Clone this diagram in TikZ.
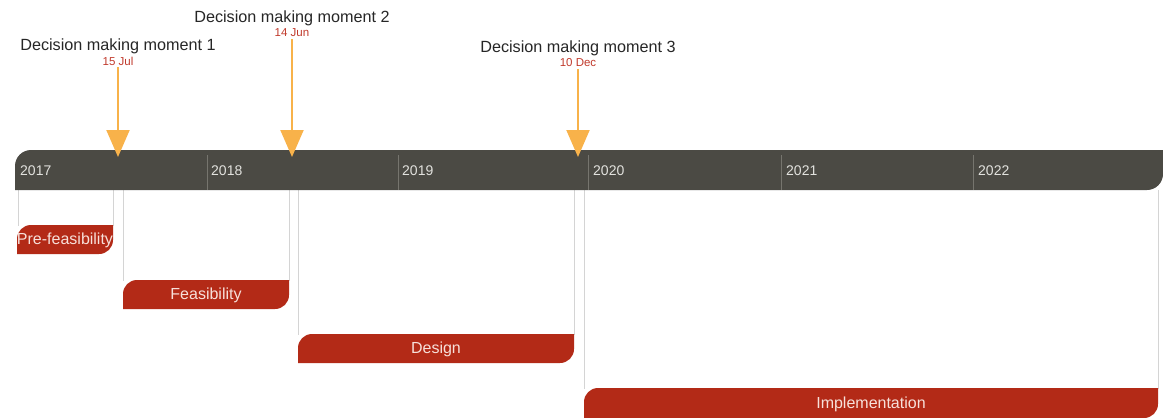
\documentclass[tikz,border=0pt]{standalone}
\usepackage{fontspec}
\setmainfont{Liberation Sans}
\usetikzlibrary{arrows.meta}
\definecolor{barcol}{HTML}{4B4A44}
\definecolor{sepcol}{HTML}{76756E}
\definecolor{phasecol}{HTML}{B32A17}
\definecolor{arrcol}{HTML}{F8B24A}
\definecolor{datecol}{HTML}{C0392B}
\definecolor{guidecol}{HTML}{D4D4D4}
\definecolor{yearcol}{HTML}{E2E2DE}
\definecolor{phasetxt}{HTML}{F7E0DA}
\newcommand\tabshape[6]{\fill[#1] (#2,-#5) -- (#2,{-#3-#6}) arc[start angle=180,end angle=90,radius=#6pt] -- (#4,-#3) -- (#4,{-#5+#6}) arc[start angle=0,end angle=-90,radius=#6pt] -- cycle;}
\tikzset{
  yearlbl/.style={anchor=west,text=yearcol,font=\fontsize{14}{16}\selectfont,inner sep=0pt},
  ylsep/.style={draw=sepcol,line width=1pt},
  guide/.style={draw=guidecol,line width=1pt},
  phaselbl/.style={text=phasetxt,font=\fontsize{16}{18}\selectfont,inner sep=0pt},
  momentlbl/.style={text=black!85,font=\fontsize{16.2}{18}\selectfont,inner sep=0pt},
  datelbl/.style={text=datecol,font=\fontsize{11.5}{13}\selectfont,inner sep=0pt},
  marker/.style={draw=arrcol,line width=2pt,-{Triangle[width=23pt,length=27pt,fill=arrcol]}},
}
\begin{document}
\begin{tikzpicture}[x=1pt,y=1pt]
\useasboundingbox (0,0) rectangle (1163,-418);
% guide lines
\coordinate (g1a) at (18,-190);  \coordinate (g1b) at (18,-226);
\coordinate (g2a) at (113,-190); \coordinate (g2b) at (113,-226);
\coordinate (g3a) at (123,-190); \coordinate (g3b) at (123,-281);
\coordinate (g4a) at (289,-190); \coordinate (g4b) at (289,-281);
\coordinate (g5a) at (298,-190); \coordinate (g5b) at (298,-335);
\coordinate (g6a) at (574,-190); \coordinate (g6b) at (574,-335);
\coordinate (g7a) at (584,-190); \coordinate (g7b) at (584,-389);
\coordinate (g8a) at (1158,-190);\coordinate (g8b) at (1158,-389);
\foreach \i in {1,...,8} {\draw[guide] (g\i a) -- (g\i b);}
% timeline bar
\tabshape{barcol}{15}{150}{1163}{190}{16}
\foreach \x/\n in {207/s18,398/s19,588/s20,781/s21,973/s22} {
  \coordinate (\n a) at (\x,-155); \coordinate (\n b) at (\x,-190);
  \draw[ylsep] (\n a) -- (\n b);
}
\node[yearlbl] (y17) at (20,-171) {2017};
\node[yearlbl] (y18) at (211,-171) {2018};
\node[yearlbl] (y19) at (402,-171) {2019};
\node[yearlbl] (y20) at (593,-171) {2020};
\node[yearlbl] (y21) at (786,-171) {2021};
\node[yearlbl] (y22) at (978,-171) {2022};
% phases
\tabshape{phasecol}{17}{225}{113}{254}{14}
\node[phaselbl] (p1) at (65,-240) {Pre-feasibility};
\tabshape{phasecol}{123}{280}{289}{309}{14}
\node[phaselbl] (p2) at (206,-295) {Feasibility};
\tabshape{phasecol}{298}{334}{574}{363}{14}
\node[phaselbl] (p3) at (436,-349) {Design};
\tabshape{phasecol}{584}{388}{1158}{418}{14}
\node[phaselbl] (p4) at (871,-404) {Implementation};
% decision moments
\node[momentlbl] (m1) at (118,-46) {Decision making moment 1};
\node[datelbl] (d1) at (118,-61) {15 Jul};
\node[momentlbl] (m2) at (292,-18) {Decision making moment 2};
\node[datelbl] (d2) at (292,-33) {14 Jun};
\node[momentlbl] (m3) at (578,-48) {Decision making moment 3};
\node[datelbl] (d3) at (578,-63) {10 Dec};
\coordinate (t1) at (118,-157);
\coordinate (t2) at (292,-157);
\coordinate (t3) at (578,-157);
\draw[marker] ([yshift=-2pt]d1.south) -- (t1);
\draw[marker] ([yshift=-2pt]d2.south) -- (t2);
\draw[marker] ([yshift=-2pt]d3.south) -- (t3);
\end{tikzpicture}
\end{document}
